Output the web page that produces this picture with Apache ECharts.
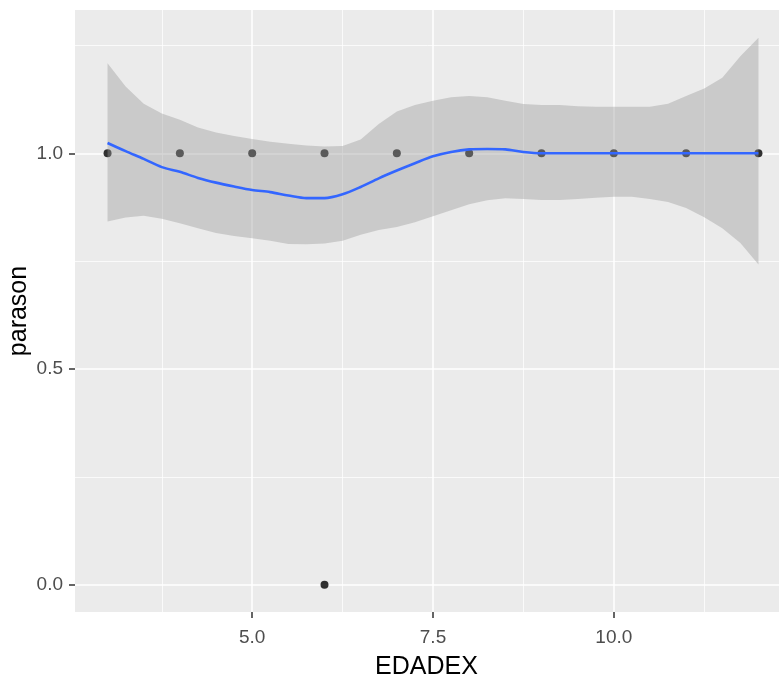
<!DOCTYPE html>
<html>
<head>
<meta charset="utf-8">
<script src="https://cdn.jsdelivr.net/npm/echarts@6/dist/echarts.min.js"></script>
<style>html,body{margin:0;padding:0;background:#fff;}#c{width:779px;height:682px;}</style>
</head>
<body>
<div id="c"></div>
<script>
// ---- data ----
var pointX = [3, 4, 5, 6, 7, 8, 9, 10, 11, 12, 6];
var pointY = [1, 1, 1, 1, 1, 1, 1, 1, 1, 1, 0];

var smoothX = [3, 3.25, 3.5, 3.75, 4, 4.25, 4.5, 4.75, 5, 5.25, 5.5, 5.75, 6, 6.25, 6.5, 6.75, 7, 7.25, 7.5, 7.75, 8, 8.25, 8.5, 8.75, 9, 9.25, 9.5, 9.75, 10, 10.25, 10.5, 10.75, 11, 11.25, 11.5, 11.75, 12];
var smoothFit = [1.024, 1.005, 0.987, 0.968, 0.957, 0.943, 0.932, 0.923, 0.915, 0.910, 0.902, 0.896, 0.896, 0.905, 0.922, 0.942, 0.960, 0.977, 0.993, 1.003, 1.009, 1.010, 1.009, 1.003, 1.0, 1.0, 1.0, 1.0, 1.0, 1.0, 1.0, 1.0, 1.0, 1.0, 1.0, 1.0, 1.0];
var smoothUpper = [1.209, 1.155, 1.115, 1.092, 1.078, 1.060, 1.048, 1.040, 1.033, 1.027, 1.022, 1.018, 1.016, 1.017, 1.032, 1.068, 1.097, 1.112, 1.122, 1.130, 1.133, 1.130, 1.122, 1.114, 1.112, 1.112, 1.109, 1.108, 1.108, 1.108, 1.108, 1.115, 1.133, 1.150, 1.175, 1.225, 1.268];
var smoothLower = [0.842, 0.851, 0.855, 0.848, 0.838, 0.826, 0.815, 0.808, 0.803, 0.797, 0.790, 0.789, 0.791, 0.797, 0.811, 0.822, 0.829, 0.840, 0.854, 0.868, 0.882, 0.891, 0.896, 0.894, 0.892, 0.892, 0.894, 0.897, 0.899, 0.899, 0.894, 0.887, 0.873, 0.852, 0.826, 0.792, 0.742];

var xTicks = [5, 7.5, 10];
var xMinor = [3.75, 6.25, 8.75, 11.25];
var yTicks = [0, 0.5, 1];
var yMinor = [0.25, 0.75, 1.25];

// ---- chart ----
var FONT = '"Liberation Sans", Arial, sans-serif';
var chart = echarts.init(document.getElementById('c'), null, {renderer: 'canvas'});

var points = pointX.map(function (x, i) { return [x, pointY[i]]; });
var fitLine = smoothX.map(function (x, i) { return [x, smoothFit[i]]; });

var xMin = 2.55, xMax = 12.45, yMin = -0.0634, yMax = 1.3322;

var option = {
  animation: false,
  grid: {
    left: 75, top: 10, width: 716, height: 602,
    containLabel: false, outerBoundsMode: 'none',
    show: true, backgroundColor: '#EBEBEB', borderWidth: 0
  },
  xAxis: [{
    type: 'value', min: xMin, max: xMax, position: 'bottom',
    name: 'EDADEX', nameLocation: 'middle', nameGap: 43, nameMoveOverlap: false,
    nameTextStyle: {color: '#000', fontSize: 25, fontFamily: FONT, padding: [0, 13, 0, 0]},
    axisLine: {show: false, onZero: false},
    axisTick: {show: true, inside: false, customValues: xTicks, length: 6, lineStyle: {color: '#333333', width: 1.5}},
    axisLabel: {customValues: xTicks, color: '#4D4D4D', fontSize: 19, fontFamily: FONT, margin: 16,
      formatter: function (v) { return v.toFixed(1); }},
    splitLine: {show: true, lineStyle: {color: '#FFFFFF', width: 1.5}}
  }, {
    type: 'value', min: xMin, max: xMax, position: 'top',
    axisLine: {show: false, onZero: false},
    axisTick: {show: false, customValues: xMinor},
    axisLabel: {show: false, customValues: xMinor},
    splitLine: {show: true, lineStyle: {color: '#FFFFFF', width: 0.75}}
  }],
  yAxis: [{
    type: 'value', min: yMin, max: yMax, position: 'left',
    name: 'parason', nameLocation: 'middle', nameGap: 43, nameRotate: 90, nameMoveOverlap: false,
    nameTextStyle: {color: '#000', fontSize: 25, fontFamily: FONT},
    axisLine: {show: false, onZero: false},
    axisTick: {show: true, inside: false, customValues: yTicks, length: 6, lineStyle: {color: '#333333', width: 1.5}},
    axisLabel: {customValues: yTicks, color: '#4D4D4D', fontSize: 19, fontFamily: FONT, margin: 12,
      formatter: function (v) { return v.toFixed(1); }},
    splitLine: {show: true, lineStyle: {color: '#FFFFFF', width: 1.5}}
  }, {
    type: 'value', min: yMin, max: yMax, position: 'right',
    axisLine: {show: false, onZero: false},
    axisTick: {show: false, customValues: yMinor},
    axisLabel: {show: false, customValues: yMinor},
    splitLine: {show: true, lineStyle: {color: '#FFFFFF', width: 0.75}}
  }],
  series: [{
    type: 'scatter', xAxisIndex: 0, yAxisIndex: 0, z: 2,
    data: points, symbol: 'circle', symbolSize: 8,
    itemStyle: {color: '#000000'}, silent: true
  }, {
    type: 'custom', xAxisIndex: 0, yAxisIndex: 0, z: 3,
    data: [[smoothX[0], smoothFit[0]]],
    encode: {x: 0, y: 1},
    renderItem: function (params, api) {
      var pts = [];
      for (var i = 0; i < smoothX.length; i++) pts.push(api.coord([smoothX[i], smoothUpper[i]]));
      for (var j = smoothX.length - 1; j >= 0; j--) pts.push(api.coord([smoothX[j], smoothLower[j]]));
      return {type: 'polygon', shape: {points: pts}, style: {fill: 'rgba(153,153,153,0.4)', stroke: null}};
    },
    silent: true
  }, {
    type: 'line', xAxisIndex: 0, yAxisIndex: 0, z: 4,
    data: fitLine, showSymbol: false, smooth: 0.3,
    lineStyle: {color: '#3366FF', width: 2.6}, silent: true
  }]
};
chart.setOption(option);
</script>
</body>
</html>
